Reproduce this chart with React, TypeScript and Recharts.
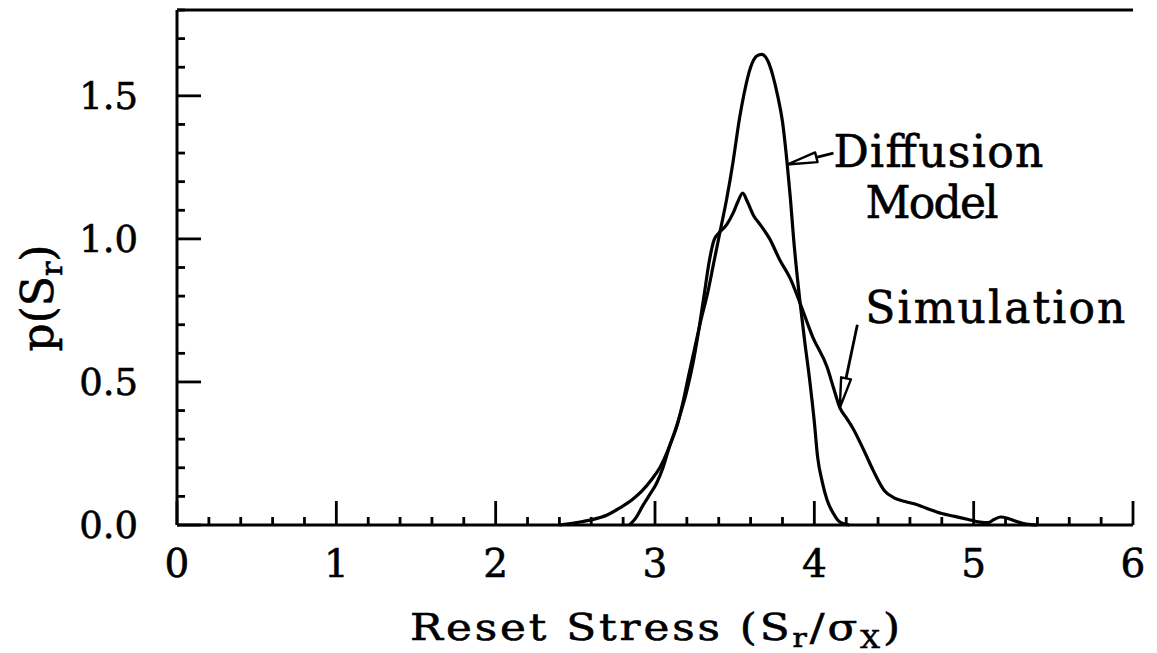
import React from "react";
import {
  LineChart,
  Line,
  XAxis,
  YAxis,
  ReferenceLine,
  ReferenceDot,
  Label,
} from "recharts";

// reset stress (S_r / sigma_x) and density for the diffusion model curve
const diffusionStress = [
  2.84, 2.88, 2.92, 2.96, 3.01, 3.05, 3.09, 3.14, 3.18, 3.21, 3.25, 3.29, 3.33,
  3.37, 3.41, 3.45, 3.49, 3.53, 3.56, 3.6, 3.64, 3.67, 3.71, 3.74, 3.77, 3.8,
  3.83, 3.85, 3.87, 3.91, 3.94, 3.97, 4.0, 4.02, 4.05, 4.08, 4.12, 4.15, 4.18,
  4.22,
];
const diffusionDensity = [
  0, 0.025, 0.064, 0.1, 0.146, 0.2, 0.273, 0.35, 0.44, 0.52, 0.62, 0.72, 0.81,
  0.92, 1.03, 1.14, 1.27, 1.42, 1.51, 1.6, 1.64, 1.645, 1.62, 1.57, 1.5, 1.41,
  1.26, 1.14, 1.0, 0.78, 0.64, 0.51, 0.36, 0.24, 0.15, 0.087, 0.04, 0.015, 0.005,
  0,
];

// simulated histogram (smoothed)
const simulationStress = [
  2.4, 2.5, 2.6, 2.7, 2.78, 2.86, 2.92, 2.98, 3.03, 3.08, 3.12, 3.16, 3.2, 3.24,
  3.28, 3.31, 3.34, 3.37, 3.4, 3.45, 3.49, 3.52, 3.55, 3.58, 3.62, 3.66, 3.72,
  3.78, 3.85, 3.91, 3.99, 4.08, 4.12, 4.16, 4.2, 4.24, 4.31, 4.37, 4.44, 4.5,
  4.57, 4.65, 4.72, 4.8, 4.88, 4.96, 5.04, 5.09, 5.13, 5.17, 5.22, 5.27, 5.33,
  5.4,
];
const simulationDensity = [
  0, 0.008, 0.018, 0.035, 0.06, 0.09, 0.12, 0.16, 0.2, 0.26, 0.32, 0.39, 0.47,
  0.57, 0.7, 0.81, 0.92, 0.995, 1.02, 1.05, 1.09, 1.13, 1.16, 1.13, 1.08, 1.05,
  1.0, 0.93, 0.86, 0.776, 0.657, 0.552, 0.48, 0.41, 0.375, 0.34, 0.262, 0.19,
  0.12, 0.095, 0.082, 0.07, 0.055, 0.04, 0.03, 0.02, 0.01, 0.008, 0.02, 0.028,
  0.022, 0.012, 0.003, 0,
];

const xTicks = [
  0, 0.2, 0.4, 0.6, 0.8, 1, 1.2, 1.4, 1.6, 1.8, 2, 2.2, 2.4, 2.6, 2.8, 3, 3.2,
  3.4, 3.6, 3.8, 4, 4.2, 4.4, 4.6, 4.8, 5, 5.2, 5.4, 5.6, 5.8, 6,
];
const xLabels = [0, 1, 2, 3, 4, 5, 6];
const yTicks = [
  0, 0.1, 0.2, 0.3, 0.4, 0.5, 0.6, 0.7, 0.8, 0.9, 1, 1.1, 1.2, 1.3, 1.4, 1.5,
  1.6, 1.7, 1.8,
];
const yLabels = [0, 0.5, 1, 1.5];

const toPoints = (xs: number[], ys: number[]) =>
  xs.map((x, i) => ({ x, p: ys[i] }));

const diffusionData = toPoints(diffusionStress, diffusionDensity);
const simulationData = toPoints(simulationStress, simulationDensity);

// annotation anchors in data units
const diffusionArrow = { tail: { x: 4.12, y: 1.3 }, tip: { x: 3.83, y: 1.26 } };
const simulationArrow = { tail: { x: 4.27, y: 0.7 }, tip: { x: 4.16, y: 0.41 } };
const diffusionText = { x: 4.12, y: 1.25, lines: ["Diffusion", "Model"] };
const simulationText = { x: 4.32, y: 0.707, text: "Simulation" };

const FONT = "'DejaVu Serif', serif";
const INK = "#000";
const MAJOR = 24;
const MINOR = 8;
const TEXT_WEIGHT = { stroke: INK, strokeWidth: 0.6 };

const BottomTick = (props: any) => {
  const { x, y, payload } = props;
  const major = xLabels.includes(payload.value);
  return (
    <g>
      <line x1={x} y1={y} x2={x} y2={y - (major ? MAJOR : MINOR)} stroke={INK} strokeWidth={2.8} />
      {major && (
        <text x={x} y={y + 52} textAnchor="middle" fontFamily={FONT} fontSize={39} fill={INK} {...TEXT_WEIGHT}>
          {payload.value}
        </text>
      )}
    </g>
  );
};

const LeftTick = (props: any) => {
  const { x, y, payload } = props;
  const major = yLabels.includes(payload.value);
  return (
    <g>
      <line x1={x} y1={y} x2={x + (major ? MAJOR : MINOR)} y2={y} stroke={INK} strokeWidth={2.8} />
      {major && (
        <text x={x - 39} y={y + 13} textAnchor="end" fontFamily={FONT} fontSize={37} fill={INK} {...TEXT_WEIGHT}>
          {payload.value.toFixed(1)}
        </text>
      )}
    </g>
  );
};

const RightTick = (props: any) => {
  const { x, y, payload } = props;
  const major = yLabels.includes(payload.value);
  return <line x1={x} y1={y} x2={x - (major ? MAJOR : MINOR)} y2={y} stroke={INK} strokeWidth={2.8} />;
};

// line from label to curve, finished with a hollow arrowhead on the curve
const Arrow = (props: any) => {
  const { x1, y1, x2, y2 } = props;
  const dx = x2 - x1;
  const dy = y2 - y1;
  const len = Math.hypot(dx, dy) || 1;
  const ux = dx / len;
  const uy = dy / len;
  const head = 30;
  const half = 5;
  const bx = x2 - ux * head;
  const by = y2 - uy * head;
  const px = -uy * half;
  const py = ux * half;
  return (
    <g>
      <line x1={x1} y1={y1} x2={bx} y2={by} stroke={INK} strokeWidth={2.8} />
      <polygon
        points={`${x2},${y2} ${bx + px},${by + py} ${bx - px},${by - py}`}
        fill="#fff"
        stroke={INK}
        strokeWidth={2.4}
        strokeLinejoin="round"
      />
    </g>
  );
};

// wide lettering: stretch glyphs a little, then spread to the final width
const XTitle = (props: any) => {
  const { x, y, width } = props.viewBox;
  return (
    <g transform={`translate(${x + width / 2}, ${y + 115}) scale(1.15, 1)`}>
      <text
        x={0}
        y={0}
        textAnchor="middle"
        fontFamily={FONT}
        fontSize={38}
        fill={INK}
        textLength={426}
        lengthAdjust="spacing"
        {...TEXT_WEIGHT}
      >
        Reset Stress (S
        <tspan dy={7} fontSize={26}>r</tspan>
        <tspan dy={-7}>/σ</tspan>
        <tspan dy={8} fontSize={24}>X</tspan>
        <tspan dy={-8}>)</tspan>
      </text>
    </g>
  );
};

const YTitle = () => (
  <text
    transform="translate(53, 298) rotate(-90)"
    textAnchor="middle"
    fontFamily={FONT}
    fontSize={44}
    fill={INK}
    {...TEXT_WEIGHT}
  >
    p(S
    <tspan dy={9} fontSize={30}>r</tspan>
    <tspan dy={-9}>)</tspan>
  </text>
);

export default function App() {
  return (
    <div style={{ position: "absolute", left: 0, top: 0, background: "#fff" }}>
      <LineChart width={1157} height={653} margin={{ top: 10, right: 24, bottom: 0, left: 0 }}>
        <XAxis
          dataKey="x"
          type="number"
          domain={[0, 6]}
          ticks={xTicks}
          interval={0}
          height={128}
          tickSize={0}
          tickMargin={0}
          tickLine={false}
          tick={<BottomTick />}
          axisLine={{ stroke: INK, strokeWidth: 3 }}
        >
          <Label content={<XTitle />} />
        </XAxis>
        <YAxis
          type="number"
          domain={[0, 1.8]}
          ticks={yTicks}
          interval={0}
          width={177}
          tickSize={0}
          tickMargin={0}
          tickLine={false}
          tick={<LeftTick />}
          axisLine={{ stroke: INK, strokeWidth: 3 }}
        >
          <Label content={<YTitle />} />
        </YAxis>
        <YAxis
          yAxisId="right"
          orientation="right"
          type="number"
          domain={[0, 1.8]}
          ticks={yTicks}
          interval={0}
          width={0}
          tickSize={0}
          tickMargin={0}
          tickLine={false}
          tick={<RightTick />}
          axisLine={{ stroke: INK, strokeWidth: 3 }}
        />
        <ReferenceLine y={1.8} stroke={INK} strokeWidth={3} />

        <Line
          data={diffusionData}
          dataKey="p"
          type="monotone"
          stroke={INK}
          strokeWidth={3.2}
          dot={false}
          isAnimationActive={false}
        />
        <Line
          data={simulationData}
          dataKey="p"
          type="monotone"
          stroke={INK}
          strokeWidth={3.2}
          dot={false}
          isAnimationActive={false}
        />

        <ReferenceLine
          segment={[diffusionArrow.tail, diffusionArrow.tip]}
          shape={<Arrow />}
        />
        <ReferenceLine
          segment={[simulationArrow.tail, simulationArrow.tip]}
          shape={<Arrow />}
        />
        <ReferenceDot
          x={diffusionText.x}
          y={diffusionText.y}
          r={0}
          shape={(p: any) => (
            <g fontFamily={FONT} fontSize={44} fill={INK} {...TEXT_WEIGHT}>
              <text x={p.cx} y={p.cy} textLength={210} lengthAdjust="spacing">
                {diffusionText.lines[0]}
              </text>
              <text x={p.cx + 32} y={p.cy + 51} textLength={133} lengthAdjust="spacing">
                {diffusionText.lines[1]}
              </text>
            </g>
          )}
        />
        <ReferenceDot
          x={simulationText.x}
          y={simulationText.y}
          r={0}
          shape={(p: any) => (
            <text
              x={p.cx}
              y={p.cy}
              fontFamily={FONT}
              fontSize={44}
              fill={INK}
              textLength={260}
              lengthAdjust="spacing"
              {...TEXT_WEIGHT}
            >
              {simulationText.text}
            </text>
          )}
        />
      </LineChart>
    </div>
  );
}
